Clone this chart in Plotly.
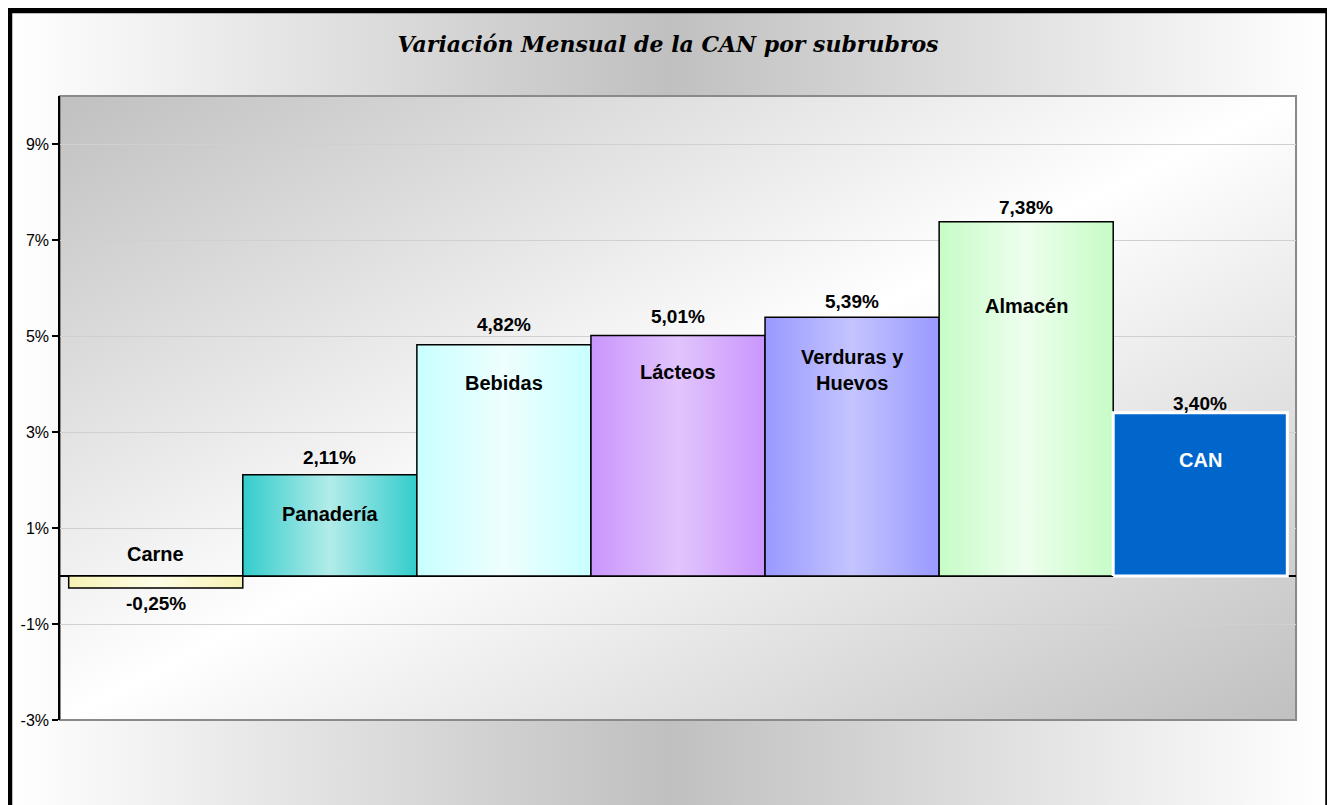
import base64
import plotly.graph_objects as go

# ---------------- data ----------------
categories = ["Carne", "Panadería", "Bebidas", "Lácteos", "Verduras y<br>Huevos", "Almacén", "CAN"]
values = [-0.25, 2.11, 4.82, 5.01, 5.39, 7.38, 3.40]
value_labels = ["-0,25%", "2,11%", "4,82%", "5,01%", "5,39%", "7,38%", "3,40%"]
tick_vals = [-3, -1, 1, 3, 5, 7, 9]
tick_text = ["-3%", "-1%", "1%", "3%", "5%", "7%", "9%"]

# ---------------- styles / positions ----------------
edge_colors = ["#f6f2b4", "#33cccc", "#c8ffff", "#c996fd", "#9999ff", "#c6fcc6", "#0066cc"]
center_colors = ["#fffde6", "#b2ece9", "#eefffe", "#e2c4fc", "#c4c4ff", "#eefeee", "#0066cc"]
outline_colors = ["black"] * 6 + ["white"]
outline_widths = [1.5] * 6 + [3]
name_colors = ["black"] * 6 + ["white"]
name_label_y = [0.46, 1.29, 4.02, 4.25, 4.29, 5.63, 2.42]
value_label_shift = [-15, 17, 20, 19, 16, 14, 9]

OFF = 8  # page body margin: figure origin sits at (8, 8) in the window
W, H = 1335 - OFF, 805 - OFF
L, T = 60 - OFF, 96 - OFF
R = W - (1296 - OFF)
B = H - (720 - OFF)
PW, PH = W - L - R, H - T - B


def px(x):  # window x pixel -> paper x
    return (x - OFF - L) / PW


def py(y):  # window y pixel -> paper y
    return (H - B - (y - OFF)) / PH


def svg_uri(svg):
    return "data:image/svg+xml;base64," + base64.b64encode(svg.encode()).decode()


outer_svg = (
    '<svg xmlns="http://www.w3.org/2000/svg" width="100" height="100" preserveAspectRatio="none" viewBox="0 0 100 100">'
    '<defs><linearGradient id="g" x1="0" y1="0" x2="1" y2="0">'
    '<stop offset="0" stop-color="#ffffff"/><stop offset="0.5" stop-color="#c0c0c0"/>'
    '<stop offset="1" stop-color="#ffffff"/></linearGradient></defs>'
    '<rect width="100" height="100" fill="url(#g)"/></svg>'
)
plot_svg = (
    '<svg xmlns="http://www.w3.org/2000/svg" width="100" height="100" preserveAspectRatio="none" viewBox="0 0 100 100">'
    '<defs><linearGradient id="g" x1="0" y1="0" x2="1" y2="1">'
    '<stop offset="0" stop-color="#c0c0c0"/><stop offset="0.5" stop-color="#ffffff"/>'
    '<stop offset="1" stop-color="#c0c0c0"/></linearGradient></defs>'
    '<rect width="100" height="100" fill="url(#g)"/></svg>'
)

fig = go.Figure()

for i, (cat, v) in enumerate(zip(categories, values)):
    fig.add_trace(go.Scatter(
        x=[i - 0.5, i - 0.5, i + 0.5, i + 0.5, i - 0.5],
        y=[0, v, v, 0, 0],
        mode="lines",
        fill="toself",
        fillgradient=dict(
            type="horizontal",
            colorscale=[[0, edge_colors[i]], [0.5, center_colors[i]], [1, edge_colors[i]]],
        ),
        line=dict(color=outline_colors[i], width=outline_widths[i]),
        name=cat.replace("<br>", " "),
        hoverinfo="skip",
        showlegend=False,
    ))

annotations = []
for i, v in enumerate(values):
    annotations.append(dict(
        x=i, y=v, xref="x", yref="y", text="<b>" + value_labels[i] + "</b>",
        showarrow=False, yanchor="middle", yshift=value_label_shift[i],
        font=dict(family="Liberation Sans, Arial, sans-serif", size=19, color="black"),
    ))
    annotations.append(dict(
        x=i, y=name_label_y[i], xref="x", yref="y", text="<b>" + categories[i] + "</b>",
        showarrow=False, yanchor="middle",
        font=dict(family="Liberation Sans, Arial, sans-serif", size=20, color=name_colors[i]),
    ))

images = [
    dict(source=svg_uri(outer_svg), xref="paper", yref="paper",
         x=px(10), y=py(10), sizex=px(1328) - px(10), sizey=py(10) - py(820),
         xanchor="left", yanchor="top", sizing="stretch", layer="below"),
    dict(source=svg_uri(plot_svg), xref="paper", yref="paper",
         x=0, y=1, sizex=1, sizey=1,
         xanchor="left", yanchor="top", sizing="stretch", layer="below"),
]

shapes = [
    dict(type="rect", xref="paper", yref="paper", x0=0, x1=1, y0=0, y1=1,
         line=dict(color="#8a8a8a", width=2), fillcolor="rgba(0,0,0,0)", layer="below"),
    dict(type="rect", xref="paper", yref="paper", x0=px(9.5), x1=px(1328), y0=py(830), y1=py(10.5),
         line=dict(color="black", width=5.5), fillcolor="rgba(0,0,0,0)", layer="above"),
]

fig.update_layout(
    width=W, height=H,
    margin=dict(l=L, r=R, t=T, b=B, pad=0),
    paper_bgcolor="white",
    plot_bgcolor="rgba(0,0,0,0)",
    title=dict(
        text="<b><i>Variación Mensual de la CAN por subrubros</i></b>",
        x=(668 - OFF) / W, xref="container", xanchor="center",
        y=1 - (44 - OFF) / H, yref="container", yanchor="middle",
        font=dict(family="DejaVu Serif, serif", size=22, color="black"),
    ),
    xaxis=dict(range=[-0.55, 6.55], showticklabels=False, showgrid=False, zeroline=False,
               ticks="", showline=False, fixedrange=True),
    yaxis=dict(range=[-3, 10], tickvals=tick_vals, ticktext=tick_text,
               showgrid=True, gridcolor="#d0d0d0", gridwidth=1,
               zeroline=True, zerolinecolor="black", zerolinewidth=1.5,
               showline=True, linecolor="black", linewidth=1.5,
               ticks="outside", ticklen=6, tickcolor="black", tickwidth=1.5,
               tickfont=dict(family="Liberation Sans, Arial, sans-serif", size=16, color="black"),
               fixedrange=True),
    annotations=annotations,
    images=images,
    shapes=shapes,
    showlegend=False,
)

fig.write_html("out.html")
